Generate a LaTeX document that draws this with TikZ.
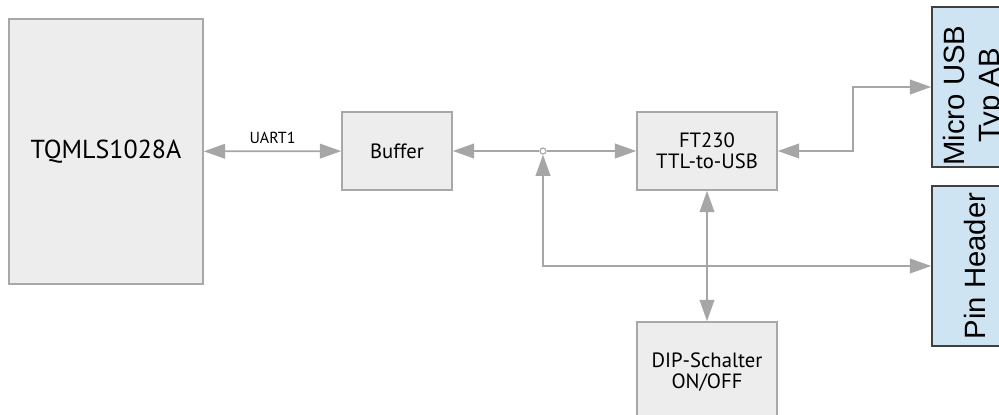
\documentclass[tikz,border=0pt]{standalone}
\usepackage{fontspec}
\usepackage{tikz}
\usetikzlibrary{arrows.meta,positioning}
\newfontfamily\boxfont{PT Sans}
\newfontfamily\portfont{Liberation Sans}
\definecolor{boxgray}{RGB}{237,237,237}
\definecolor{edgegray}{RGB}{168,168,168}
\definecolor{linkgray}{RGB}{166,166,166}
\definecolor{portblue}{RGB}{207,228,243}
\definecolor{portedge}{RGB}{64,64,64}

\begin{document}
\begin{tikzpicture}[x=0.75pt,y=-0.75pt,
    block/.style={draw=edgegray,fill=boxgray,line width=1.2pt,inner sep=0pt,align=center,font=\boxfont\fontsize{15.5}{16}\selectfont},
    portbox/.style={draw=portedge,fill=portblue,line width=1.2pt,inner sep=0pt,align=center,font=\portfont\fontsize{22}{26}\selectfont},
    link/.style={draw=linkgray,line width=1.3pt,{Triangle[length=16pt,width=11pt]}-{Triangle[length=16pt,width=11pt]}},
    linkto/.style={draw=linkgray,line width=1.3pt,-{Triangle[length=16pt,width=11pt]}}]
    \useasboundingbox (0,0) rectangle (999,414);

    % SoM and buffer
    \node[block,minimum width=194*0.75pt,minimum height=265*0.75pt,font=\boxfont\fontsize{19.5}{21}\selectfont] (som) at (106,151.5) {TQMLS1028A};
    \node[block,minimum width=110*0.75pt,minimum height=78*0.75pt] (buffer) at (397,151) {Buffer};

    % USB bridge and switch
    \node[block,minimum width=140*0.75pt,minimum height=78*0.75pt] (ft) at (707,151) {FT230\\TTL-to-USB};
    \node[block,minimum width=140*0.75pt,minimum height=100*0.75pt] (dip) at (707,372) {DIP-Schalter\\ON/OFF};

    % Connectors on the right
    \node[portbox,minimum width=86*0.75pt,minimum height=160*0.75pt] (usb) at (975,87) {\rotatebox{90}{\hspace{-13pt}\begin{tabular}{@{}c@{}}Micro USB\\Typ AB\end{tabular}}};
    \node[portbox,minimum width=86*0.75pt,minimum height=160*0.75pt] (pin) at (975,266) {\rotatebox{90}{Pin Header}};

    % Junction
    \node[circle,draw=edgegray,fill=white,line width=0.9pt,minimum size=6*0.75pt,inner sep=0pt] (junc) at (543,151) {};
    \coordinate (usbbend) at (853,87);

    % Links
    \draw[link] (som) -- (buffer) node[midway,above=2pt,font=\boxfont\fontsize{12}{13}\selectfont] {UART1};
    \draw[linkto] (junc) -- (buffer);
    \draw[linkto] (junc) -- (ft);
    \draw[link] (ft.east) -| (usbbend) -- (usb.west);
    \draw[link] (junc.south) |- (pin.west);
    \draw[link] (ft) -- (dip);
\end{tikzpicture}
\end{document}
